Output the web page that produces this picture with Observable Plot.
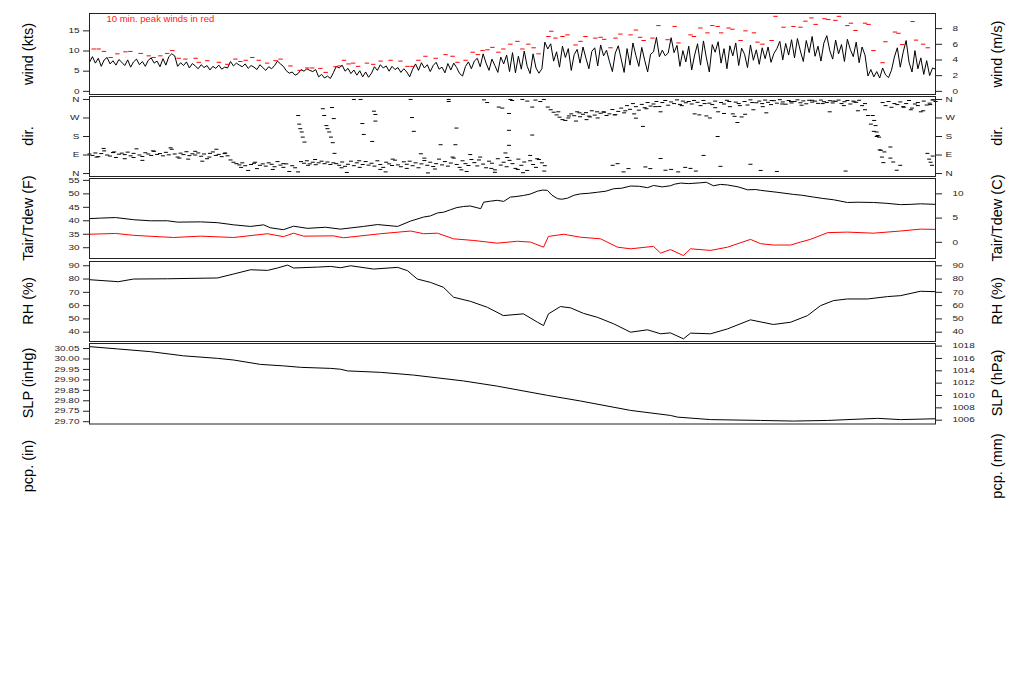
<!DOCTYPE html>
<html><head><meta charset="utf-8">
<script src="https://cdn.jsdelivr.net/npm/d3@7"></script>
<script src="https://cdn.jsdelivr.net/npm/@observablehq/plot@0.6"></script>
<style>
body{margin:0;background:#fff;font-family:"Liberation Sans",Arial,sans-serif;}
#chart{position:relative;width:1024px;height:700px;overflow:hidden;}
.ttl{position:absolute;font-size:14.5px;white-space:nowrap;transform:translate(-50%,-50%) rotate(-90deg);color:#000;line-height:1;}
</style></head><body><div id="chart"></div><script>
// ---- data (time in hours, 0..24) ----
const windStepMin = 5;
const windKts = [
7.2,8.6,7.0,8.2,6.2,7.8,8.4,6.8,7.6,6.5,7.9,7.2,
6.4,7.8,6.0,7.3,8.0,6.6,7.4,6.2,7.7,8.3,7.0,7.5,
6.1,8.1,6.5,8.6,9.3,8.8,6.2,7.1,6.4,7.3,5.8,6.9,
6.3,5.6,6.6,5.9,6.4,5.3,6.2,5.7,6.5,5.5,6.0,5.8,
7.4,6.3,7.0,6.5,6.1,6.8,5.7,6.4,6.0,5.4,6.6,5.9,
5.2,6.1,5.6,6.4,7.5,6.8,6.2,5.1,4.5,4.8,4.0,4.4,
5.4,5.0,5.6,5.2,4.9,5.4,3.6,4.2,3.3,3.8,3.2,4.6,
6.2,5.8,6.5,5.0,5.7,4.4,5.3,4.0,5.1,3.6,4.8,3.5,
4.5,6.1,5.2,6.6,5.8,6.3,5.0,6.2,5.4,5.9,4.7,5.6,
4.8,3.6,5.5,6.8,5.2,7.1,5.8,6.6,4.9,6.4,7.2,5.5,
6.0,4.6,6.9,5.3,7.0,5.9,4.4,3.8,6.2,7.3,5.6,7.5,
8.2,6.1,9.3,7.0,5.2,8.0,6.4,4.7,8.5,6.8,9.0,4.9,
9.6,4.6,8.7,5.5,10.0,6.2,4.4,9.3,5.8,4.5,5.6,12.2,
10.5,11.8,7.5,9.8,6.0,11.2,8.4,10.6,5.2,9.1,10.4,7.0,
11.0,8.2,5.6,9.9,10.8,6.3,11.5,8.8,10.2,7.4,4.9,9.5,
11.3,8.0,4.7,10.6,6.5,12.0,8.9,6.2,10.9,7.7,4.8,9.2,
9.8,13.4,8.6,10.2,8.8,9.5,13.3,9.6,11.4,6.2,10.1,7.3,
11.2,5.3,9.0,11.8,6.5,12.5,8.3,4.8,11.6,9.7,12.3,7.0,
10.6,5.6,11.3,8.8,12.0,6.4,10.7,9.2,5.9,11.5,7.7,10.3,
6.7,10.8,8.1,11.0,7.2,9.4,10.6,12.4,7.8,11.9,9.0,12.8,
8.3,13.1,10.0,7.4,12.6,9.6,13.6,8.7,11.2,7.5,12.0,13.8,
10.1,8.0,12.7,9.3,11.6,7.4,12.9,10.4,8.6,12.2,7.1,11.0,
9.0,3.8,5.4,3.6,4.9,3.3,5.8,4.1,3.4,5.2,8.5,10.8,
6.0,9.7,12.6,7.2,4.8,10.1,5.6,8.3,4.2,7.6,3.9,5.8,
5.5];

const peakWinds = [
[0.12,10.5],[0.26,10.5],[0.41,9.9],[0.60,8.4],[0.79,9.3],[1.02,9.8],[1.16,9.9],[1.45,9.4],[1.68,8.8],[1.82,8.4],
[2.01,8.8],[2.20,9.4],[2.35,10.1],[2.53,8.2],[2.72,8.0],[3.01,8.2],[3.10,7.2],[3.34,7.6],[3.67,7.2],[3.91,6.7],
[4.14,8.0],[4.28,7.4],[4.43,7.7],[4.62,8.4],[4.80,7.7],[5.04,7.0],[5.28,7.6],[5.42,8.0],[5.70,6.3],[5.96,5.2],
[6.18,5.8],[6.32,5.8],[6.55,5.7],[6.70,4.7],[6.98,6.1],[7.10,6.3],[7.22,7.7],[7.35,6.8],[7.48,7.0],[7.62,6.2],
[7.87,7.0],[8.05,6.7],[8.26,7.5],[8.54,7.7],[8.82,7.5],[9.02,6.2],[9.16,6.2],[9.33,7.7],[9.53,8.7],[9.82,8.2],
[10.10,9.1],[10.30,8.7],[10.44,7.2],[10.67,7.7],[10.87,9.7],[11.02,9.1],[11.15,10.1],[11.29,10.3],[11.43,10.9],[11.60,9.7],
[11.74,10.5],[11.94,11.7],[12.14,12.4],[12.28,10.5],[12.45,11.7],[12.60,10.8],[12.74,9.3],[13.02,13.6],[13.10,14.9],[13.22,13.2],
[13.42,13.6],[13.56,14.0],[13.79,11.5],[13.93,12.4],[14.07,13.6],[14.35,13.2],[14.50,13.4],[14.60,12.9],[14.78,10.8],[14.92,13.2],
[15.06,14.2],[15.35,14.0],[15.50,15.2],[15.62,13.4],[15.72,12.6],[15.97,13.2],[16.14,16.3],[16.40,12.8],[16.60,16.1],[16.71,12.0],
[17.05,14.0],[17.15,13.6],[17.33,15.7],[17.53,14.5],[17.67,16.3],[17.82,16.1],[17.92,14.5],[18.13,15.7],[18.24,15.4],[18.47,12.6],
[18.61,15.0],[18.85,14.5],[18.95,12.2],[19.09,11.7],[19.35,12.6],[19.46,18.6],[19.69,15.9],[19.97,16.1],[20.17,15.9],[20.31,17.4],
[20.48,18.2],[20.60,16.6],[20.85,18.0],[20.96,17.8],[21.16,17.6],[21.26,18.6],[21.50,16.3],[21.60,16.9],[21.73,15.1],[22.00,16.9],
[22.10,16.6],[22.24,10.1],[22.50,7.1],[22.58,12.3],[22.85,14.7],[22.95,14.4],[23.06,11.6],[23.35,17.3],[23.45,12.7],[23.65,11.7],
[23.78,10.8]];

const dirDeg = [
95,88,100,82,97,110,90,85,102,78,94,99,
92,104,86,98,120,90,83,101,95,88,108,93,
97,86,103,91,118,95,80,99,92,106,87,96,
90,100,84,95,72,98,105,88,93,82,97,86,
66,55,48,42,52,38,15,44,50,24,40,47,
36,52,45,33,58,41,30,47,10,38,28,8,
58,50,62,47,55,43,52,60,48,56,44,52,
48,40,56,35,45,60,38,52,30,44,58,41,
50,36,62,44,30,55,47,39,65,42,33,57,
45,60,38,52,28,47,63,40,55,34,48,70,
42,58,36,51,75,44,30,62,48,39,68,53,
37,80,46,28,60,50,18,72,41,55,33,64,
48,25,70,40,56,15,62,44,30,68,52,38,
323,310,298,285,274,262,258,270,290,281,300,276,
288,296,279,305,284,270,293,300,282,290,311,286,
302,318,295,330,312,340,325,308,336,320,345,328,
338,350,326,345,355,332,348,340,358,336,352,344,
350,338,290,346,330,355,280,342,335,352,300,345,
338,356,325,290,347,340,275,350,333,358,310,344,
352,340,357,346,335,354,342,359,348,337,355,343,
350,358,344,353,339,356,347,352,341,357,349,345,
354,343,351,357,340,349,355,338,352,346,356,330,
310,282,240,205,180,115,345,330,350,322,340,335,
348,325,340,355,318,338,345,300,352,333,342,358,
350];

const dirExtra = [
[0.2,80],[0.4,122],[0.7,105],[1.0,72],[1.25,78],[1.5,64],[1.8,110],[2.3,125],[2.55,75],[2.8,70],[3.0,108],[3.2,60],[3.4,80],[3.6,118],[3.85,100],
[4.3,30],[4.7,55],[5.2,20],[5.5,48],
[5.92,282],[5.95,240],[5.98,218],[6.02,202],[6.05,177],[6.1,153],[6.2,40],[6.4,68],
[6.62,315],[6.66,282],[6.72,233],[6.75,218],[6.8,202],[6.85,177],[6.88,321],[6.9,150],[6.93,267],[6.95,98],
[7.15,28],[7.3,5],[7.5,360],[7.65,62],[7.69,360],[7.74,243],[7.78,190],[8.02,156],[8.07,303],[8.11,287],[8.11,255],[8.25,20],[8.4,8],[8.6,70],
[9.0,25],[9.11,360],[9.15,272],[9.2,205],[9.4,96],[9.5,75],[9.6,3],[9.8,22],[9.96,140],[10.19,360],[10.19,350],[10.3,80],[10.38,140],[10.41,221],
[10.55,18],[10.7,10],[10.8,92],[11.05,66],[11.19,358],[11.28,345],[11.4,25],[11.5,6],[11.61,323],[11.71,318],[11.8,100],[11.85,78],
[11.9,292],[11.9,210],[11.9,137],[11.94,360],[11.99,355],[12.15,20],[12.28,360],[12.3,4],[12.42,352],[12.5,88],[12.56,323],[12.56,187],
[12.65,357],[12.7,72],[12.79,350],[12.89,360],[12.9,12],
[13.3,300],[13.6,280],[13.8,255],[13.9,295],[14.1,262],[14.2,275],[14.4,300],[14.6,298],[14.9,285],[15.2,305],[15.45,290],[15.5,269],[15.7,229],[15.8,315],[16.05,325],[16.2,300],
[14.84,40],[14.98,48],[15.15,8],[15.29,24],[15.77,32],[15.91,24],[16.2,73],[16.34,16],
[16.5,20],[16.7,8],[16.9,30],[17.05,25],[17.2,12],[17.42,88],[17.9,35],[18.75,45],[19.04,15],[19.5,10],[21.45,12],
[17.82,180],[18.38,248],
[17.3,285],[17.6,270],[18.0,292],[18.3,278],[18.6,288],[19.2,295],[21.0,300],[21.8,305],
[16.8,330],[17.15,355],[17.45,340],[17.75,320],[18.15,350],[18.45,330],[18.8,345],[19.1,325],[19.35,355],[19.65,338],[19.9,350],
[20.2,332],[20.5,356],[20.8,340],[21.1,352],[21.4,330],[21.7,348],[22.0,340],
[22.22,282],[22.26,258],[22.3,233],[22.33,202],[22.36,185],[22.4,177],[22.45,113],[22.48,80],[22.52,53],[22.55,105],
[22.72,129],[22.72,75],[22.8,56],[22.9,16],[23.0,40],
[23.1,322],[23.3,310],[23.5,330],[23.65,305],[23.85,335],
[23.77,98],[23.82,70],[23.86,55],[23.9,40],[23.92,85],[23.94,358]];

const tairF = [
[0,40.8],[0.31,41.0],[0.74,41.2],[1.25,40.4],[1.73,40.0],[2.21,40.0],[2.50,39.5],[3.15,39.6],[3.63,39.3],[4.09,38.5],
[4.57,37.9],[4.94,38.5],[5.13,37.4],[5.50,36.7],[5.79,38.0],[6.18,37.2],[6.70,37.6],[7.12,36.9],[7.77,37.9],[8.17,38.6],
[8.74,37.9],[9.11,39.9],[9.48,41.4],[9.67,41.8],[9.87,42.9],[10.05,43.2],[10.24,44.1],[10.42,44.9],[10.61,45.3],[10.8,45.5],
[11.01,44.8],[11.1,44.5],[11.18,46.9],[11.38,47.3],[11.57,47.6],[11.75,47.2],[11.94,48.8],[12.1,49.0],[12.31,49.4],[12.5,49.9],
[12.71,51.0],[12.85,51.4],[12.99,51.3],[13.12,49.5],[13.28,48.2],[13.4,48.0],[13.56,48.4],[13.75,49.5],[13.93,50.0],[14.15,50.2],
[14.41,50.6],[14.65,51.0],[14.87,51.9],[15.1,52.1],[15.35,52.9],[15.6,52.8],[15.83,52.3],[16.0,53.1],[16.25,52.6],[16.48,53.0],
[16.6,53.6],[16.77,54.0],[17.0,53.8],[17.33,54.1],[17.5,54.3],[17.7,53.0],[17.9,53.5],[18.1,53.3],[18.4,52.6],[18.67,51.5],
[18.9,51.6],[19.04,51.3],[19.5,50.6],[19.97,49.8],[20.2,49.5],[20.54,48.8],[20.8,48.3],[21.11,47.8],[21.5,46.8],[21.8,46.9],
[22.24,46.8],[22.6,46.5],[23.01,46.0],[23.3,46.1],[23.57,46.3],[24,46.1]];

const tdewF = [
[0,35.0],[0.74,35.3],[1.25,34.6],[2.38,33.8],[3.15,34.3],[4.09,33.8],[5.05,35.2],[5.50,34.1],[5.79,35.4],[6.07,34.3],
[6.92,34.4],[7.21,33.7],[8.26,35.2],[9.11,36.2],[9.48,35.2],[9.87,35.4],[10.33,33.3],[10.89,32.7],[11.57,31.7],[12.14,32.4],
[12.51,32.1],[12.88,30.2],[13.02,34.2],[13.45,35.0],[13.93,33.9],[14.50,33.3],[14.98,30.2],[15.35,29.6],[16.00,30.5],[16.20,28.0],
[16.48,29.3],[16.85,27.1],[17.05,29.6],[17.62,29.0],[18.10,30.2],[18.75,33.1],[19.04,31.5],[19.40,31.0],[19.89,31.0],[20.17,32.1],
[20.45,33.1],[20.94,35.6],[21.50,35.8],[22.24,35.4],[23.01,36.2],[23.57,36.9],[24,36.8]];

const rhPct = [
[0,79.5],[0.82,78.0],[1.25,80.0],[2.21,80.2],[3.63,80.8],[4.09,83.8],[4.57,87.0],[5.05,86.5],[5.33,88.3],[5.62,90.5],
[5.79,88.3],[6.47,89.0],[6.84,89.5],[7.12,88.5],[7.41,90.0],[8.06,87.5],[8.74,88.8],[9.02,86.3],[9.30,80.0],[9.67,77.5],
[10.04,73.8],[10.33,66.3],[10.81,63.2],[11.29,58.7],[11.74,52.5],[12.31,53.8],[12.71,47.5],[12.88,45.0],[13.02,53.8],[13.36,59.3],
[13.65,58.3],[14.01,54.2],[14.41,51.2],[14.87,46.3],[15.35,40.0],[15.83,41.8],[16.20,38.8],[16.48,39.5],[16.85,35.0],[17.05,39.3],
[17.62,38.8],[18.10,42.5],[18.75,49.3],[19.40,45.8],[19.89,47.5],[20.37,52.5],[20.74,60.0],[21.11,63.8],[21.50,65.0],[22.07,65.0],
[22.64,66.8],[23.01,67.5],[23.57,70.8],[24,70.5]];

const slpInHg = [
[0,30.059],[0.80,30.048],[1.73,30.035],[2.67,30.015],[3.63,30.003],[4.09,29.995],[4.85,29.974],[5.50,29.967],[5.99,29.960],[6.84,29.955],
[7.12,29.951],[7.32,29.943],[8.26,29.936],[9.19,29.923],[10.61,29.895],[11.57,29.870],[12.99,29.826],[13.93,29.799],[15.35,29.754],[16.48,29.730],
[16.68,29.722],[17.62,29.710],[19.04,29.706],[19.97,29.703],[20.94,29.706],[22.36,29.716],[23.01,29.710],[24,29.714]];

// ---- tick labels ----
const windTicksKts = [0,5,10,15];
const windTicksMs = [0,2,4,6,8];
const dirTicks = [0,90,180,270,360];
const dirLabels = ["N","E","S","W","N"];
const tempTicksF = [30,35,40,45,50,55];
const tempTicksC = [0,5,10];
const rhTicks = [40,50,60,70,80,90];
const slpTicksIn = [29.70,29.75,29.80,29.85,29.90,29.95,30.00,30.05];
const slpTicksHpa = [1006,1008,1010,1012,1014,1016,1018];

const KT_PER_MS = 1.943844, INHG_PER_HPA = 0.0295300;

// ---- layout ----
const chart = document.getElementById("chart");
const W = 1024, ML = 89, MR = 89, PAD = 10;
const FONT = '"Liberation Sans", Arial, sans-serif';
const SQUASH = 0.7; // the reference's tick text is vertically compressed

const dash = {draw(ctx, size) { const r = Math.sqrt(size / Math.PI); ctx.moveTo(-r, 0); ctx.lineTo(r, 0); }};

function panel({top, bottom, yDomain, marks, left, right}) {
  const svg = Plot.plot({
    width: W, height: bottom - top + 2 * PAD,
    marginLeft: ML, marginRight: MR, marginTop: PAD, marginBottom: PAD,
    style: {fontFamily: FONT, fontSize: "10px", color: "#000", background: "transparent", overflow: "visible"},
    x: {domain: [0, 24], axis: null},
    y: {domain: yDomain, axis: null},
    marks: [
      ...marks,
      Plot.axisY(left.ticks, {anchor: "left", tickSize: 6, tickPadding: 4, tickFormat: left.format, label: null, fontSize: 10, stroke: "#222", fill: "#222"}),
      Plot.axisY(right.ticks, {anchor: "right", tickSize: 6, tickPadding: right.pad, tickFormat: right.format, label: null, fontSize: 10, stroke: "#222", fill: "#222"}),
      Plot.frame({stroke: "#222", strokeWidth: 1})
    ]
  });
  // vertically compress tick label glyphs around their own anchor
  svg.querySelectorAll('g[aria-label="y-axis tick label"] text').forEach(t => {
    const tr = t.getAttribute("transform") || "";
    t.setAttribute("transform", tr + ` scale(1,${SQUASH})`);
  });
  svg.style.position = "absolute";
  svg.style.left = "0px";
  svg.style.top = (top - PAD) + "px";
  chart.append(svg);
}

function title(text, x, y) {
  const d = document.createElement("div");
  d.className = "ttl"; d.textContent = text;
  d.style.left = x + "px"; d.style.top = y + "px";
  chart.append(d);
}

const windData = windKts.map((v, i) => ({h: i * windStepMin / 60, v}));
const dirData = dirDeg.map((v, i) => ({h: i * windStepMin / 60, v}));

// wind
panel({
  top: 13, bottom: 94, yDomain: [-0.78, 19.3],
  marks: [
    Plot.line(windData, {x: "h", y: "v", stroke: "#000", strokeWidth: 1}),
    Plot.dot(peakWinds, {x: d => d[0], y: d => d[1], symbol: dash, r: 2.2, stroke: "#ff0000", fill: "none", strokeWidth: 1}),
    Plot.text(["10 min. peak winds in red"], {text: d => d, frameAnchor: "top-left", dx: 17, dy: 2, textAnchor: "start", lineAnchor: "top", fill: "#ff2020", fontSize: 9.5})
  ],
  left: {ticks: windTicksKts, format: d => String(d)},
  right: {ticks: windTicksMs.map(v => v * KT_PER_MS), format: d => String(Math.round(d / KT_PER_MS)), pad: 11}
});

// direction
panel({
  top: 96, bottom: 176, yDomain: [-14.4, 374.4],
  marks: [
    Plot.dot(dirData, {x: "h", y: "v", symbol: dash, r: 2, stroke: "#000", fill: "none", strokeWidth: 1}),
    Plot.dot(dirExtra, {x: d => d[0], y: d => d[1], symbol: dash, r: 2, stroke: "#000", fill: "none", strokeWidth: 1})
  ],
  left: {ticks: dirTicks, format: d => dirLabels[dirTicks.indexOf(d)]},
  right: {ticks: dirTicks, format: d => dirLabels[dirTicks.indexOf(d)], pad: 4}
});

// temperature
panel({
  top: 178, bottom: 258, yDomain: [26.0, 55.7],
  marks: [
    Plot.line(tairF, {x: d => d[0], y: d => d[1], stroke: "#000", strokeWidth: 1}),
    Plot.line(tdewF, {x: d => d[0], y: d => d[1], stroke: "#ff0000", strokeWidth: 1})
  ],
  left: {ticks: tempTicksF, format: d => String(d)},
  right: {ticks: tempTicksC.map(c => c * 9 / 5 + 32), format: d => String(Math.round((d - 32) * 5 / 9)), pad: 11}
});

// RH
panel({
  top: 261, bottom: 341, yDomain: [33.0, 93.2],
  marks: [Plot.line(rhPct, {x: d => d[0], y: d => d[1], stroke: "#000", strokeWidth: 1})],
  left: {ticks: rhTicks, format: d => String(d)},
  right: {ticks: rhTicks, format: d => String(d), pad: 11}
});

// SLP
panel({
  top: 343, bottom: 423.5, yDomain: [29.689, 30.074],
  marks: [Plot.line(slpInHg, {x: d => d[0], y: d => d[1], stroke: "#000", strokeWidth: 1})],
  left: {ticks: slpTicksIn, format: d => d.toFixed(2)},
  right: {ticks: slpTicksHpa.map(p => p * INHG_PER_HPA), format: d => String(Math.round(d / INHG_PER_HPA)), pad: 11}
});

// titles
const titlesL = [["wind (kts)", 53.5], ["dir.", 136], ["Tair/Tdew (F)", 218], ["RH (%)", 301], ["SLP (inHg)", 383], ["pcp. (in)", 466]];
const titlesR = [["wind (m/s)", 53.5], ["dir.", 136], ["Tair/Tdew (C)", 218], ["RH (%)", 301], ["SLP (hPa)", 383], ["pcp. (mm)", 466]];
titlesL.forEach(([t, y]) => title(t, 28, y));
titlesR.forEach(([t, y]) => title(t, 997, y));
</script></body></html>
